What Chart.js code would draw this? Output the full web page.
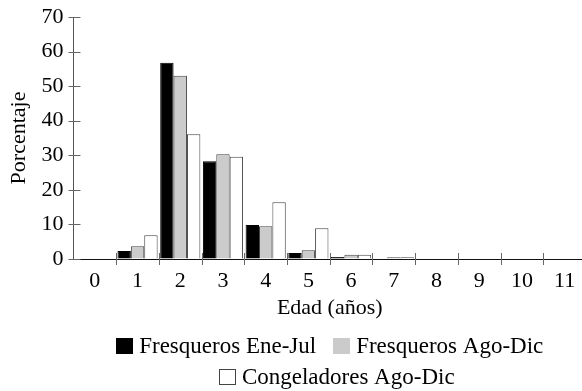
<!DOCTYPE html>
<html lang="es">
<head>
<meta charset="utf-8">
<title>Distribución de edades</title>
<script src="https://cdn.jsdelivr.net/npm/chart.js@4.4.1/dist/chart.umd.min.js"></script>
<style>
  html, body { margin: 0; padding: 0; background: #fff; overflow: hidden; }
  #wrap { width: 588px; height: 391px; }
</style>
</head>
<body>
<div id="wrap"><canvas id="chart" width="588" height="391"></canvas></div>
<script>
// Age classes (years)
const edades = ['0', '1', '2', '3', '4', '5', '6', '7', '8', '9', '10', '11'];

// Percentage of individuals per age class
const fresquerosEneJul   = [0, 2.3, 56.8, 28.3,  9.8, 1.7, 0.6, 0.0, 0, 0, 0, 0];
const fresquerosAgoDic   = [0, 3.7, 53.0, 30.3,  9.5, 2.5, 1.2, 0.5, 0, 0, 0, 0];
const congeladoresAgoDic = [0, 6.9, 36.1, 29.6, 16.4, 8.9, 1.2, 0.5, 0, 0, 0, 0];

// Y axis range
const yMin = 0, yMax = 70, yStep = 10;

const FONT = "'Liberation Serif', 'Times New Roman', Times, serif";
const TICK_COLOR = '#666';

// Short tick marks crossing both axes
const crossTicks = {
  id: 'crossTicks',
  afterDraw(chart) {
    const {ctx, scales: {x, y}, chartArea} = chart;
    ctx.save();
    ctx.strokeStyle = TICK_COLOR;
    ctx.lineWidth = 1;
    ctx.beginPath();
    const ax = Math.round(chartArea.left) + 0.5;
    y.ticks.forEach(t => {
      const py = Math.round(y.getPixelForValue(t.value)) + 0.5;
      ctx.moveTo(ax - 6, py);
      ctx.lineTo(ax + 6, py);
    });
    const ay = Math.round(chartArea.bottom);
    const step = x.getPixelForValue(1) - x.getPixelForValue(0);
    for (let i = 1; i <= edades.length; i++) {
      const px = Math.round(x.getPixelForValue(i - 1) + step / 2) + 0.5;
      ctx.moveTo(px, ay - 6);
      ctx.lineTo(px, ay + 6);
    }
    ctx.stroke();
    ctx.restore();
  }
};

// Legend drawn below the axis title, wrapped into centred rows
const rowLegend = {
  id: 'rowLegend',
  afterDraw(chart) {
    const {ctx, chartArea} = chart;
    const size = 23, boxW = 17, boxH = 16, gap = 6, spacing = 17;
    const rowY = [346, 377];
    const rowShift = [0, 7];
    const maxRow = chartArea.right - chartArea.left;
    const centre = (chartArea.left + chartArea.right) / 2;
    ctx.save();
    ctx.font = size + 'px ' + FONT;
    ctx.textBaseline = 'middle';
    ctx.textAlign = 'left';
    const items = chart.data.datasets.map(ds => ({
      ds, w: boxW + gap + ctx.measureText(ds.label).width
    }));
    const rows = [[]];
    let cur = 0;
    items.forEach(it => {
      const row = rows[rows.length - 1];
      const add = row.length ? spacing + it.w : it.w;
      if (row.length && cur + add > maxRow) {
        rows.push([it]);
        cur = it.w;
      } else {
        row.push(it);
        cur += add;
      }
    });
    rows.forEach((row, r) => {
      const total = row.reduce((s, it) => s + it.w, 0) + spacing * (row.length - 1);
      let x = centre + (rowShift[r] || 0) - total / 2;
      const cy = rowY[r];
      row.forEach(it => {
        const bx = Math.round(x), by = Math.round(cy - boxH / 2);
        ctx.fillStyle = it.ds.backgroundColor;
        ctx.fillRect(bx, by, boxW, boxH);
        if (it.ds.legendEdge) {
          ctx.strokeStyle = it.ds.legendEdge;
          ctx.lineWidth = 1;
          ctx.strokeRect(bx + 0.5, by + 0.5, boxW - 1, boxH - 1);
        }
        ctx.fillStyle = '#000';
        ctx.fillText(it.ds.label, x + boxW + gap, cy + 1);
        x += it.w + spacing;
      });
    });
    ctx.restore();
  }
};

new Chart(document.getElementById('chart'), {
  type: 'bar',
  data: {
    labels: edades,
    datasets: [
      { label: 'Fresqueros Ene-Jul', data: fresquerosEneJul,
        backgroundColor: '#000000', borderColor: '#000000', borderWidth: 1 },
      { label: 'Fresqueros Ago-Dic', data: fresquerosAgoDic,
        backgroundColor: '#cbcbcb', borderColor: '#444444', borderWidth: 1 },
      { label: 'Congeladores Ago-Dic', data: congeladoresAgoDic,
        backgroundColor: '#ffffff', borderColor: '#444444', borderWidth: 1,
        legendEdge: '#444444' }
    ]
  },
  options: {
    responsive: false,
    animation: false,
    devicePixelRatio: 1,
    layout: { padding: { top: 17, left: 0, right: 2, bottom: 70 } },
    datasets: {
      bar: { categoryPercentage: 0.94, barPercentage: 1.0, borderSkipped: 'start' }
    },
    plugins: {
      legend: { display: false },
      tooltip: { enabled: false }
    },
    scales: {
      x: {
        offset: true,
        grid: { display: true, drawOnChartArea: false, drawTicks: false, color: 'rgba(0,0,0,0)' },
        border: { display: true, color: '#111', width: 1 },
        ticks: { color: '#000', font: { family: FONT, size: 22 }, padding: 9, maxRotation: 0, autoSkip: false },
        title: { display: true, text: 'Edad (años)', color: '#000',
                 font: { family: FONT, size: 22 }, padding: { top: 0, bottom: 0 } },
        afterFit(scale) { scale.height = 62; }
      },
      y: {
        min: yMin, max: yMax,
        grid: { display: true, drawOnChartArea: false, drawTicks: false, color: 'rgba(0,0,0,0)' },
        border: { display: true, color: '#555', width: 1 },
        ticks: { stepSize: yStep, color: '#000', font: { family: FONT, size: 22 }, padding: 10 },
        title: { display: true, text: 'Porcentaje', color: '#000',
                 font: { family: FONT, size: 22 }, padding: { top: 6.5, bottom: 0 } },
        afterFit(scale) {
          scale.width = 73.5;
          scale.paddingTop = 0;
          scale.paddingBottom = 0;
        }
      }
    }
  },
  plugins: [crossTicks, rowLegend]
});
</script>
</body>
</html>
